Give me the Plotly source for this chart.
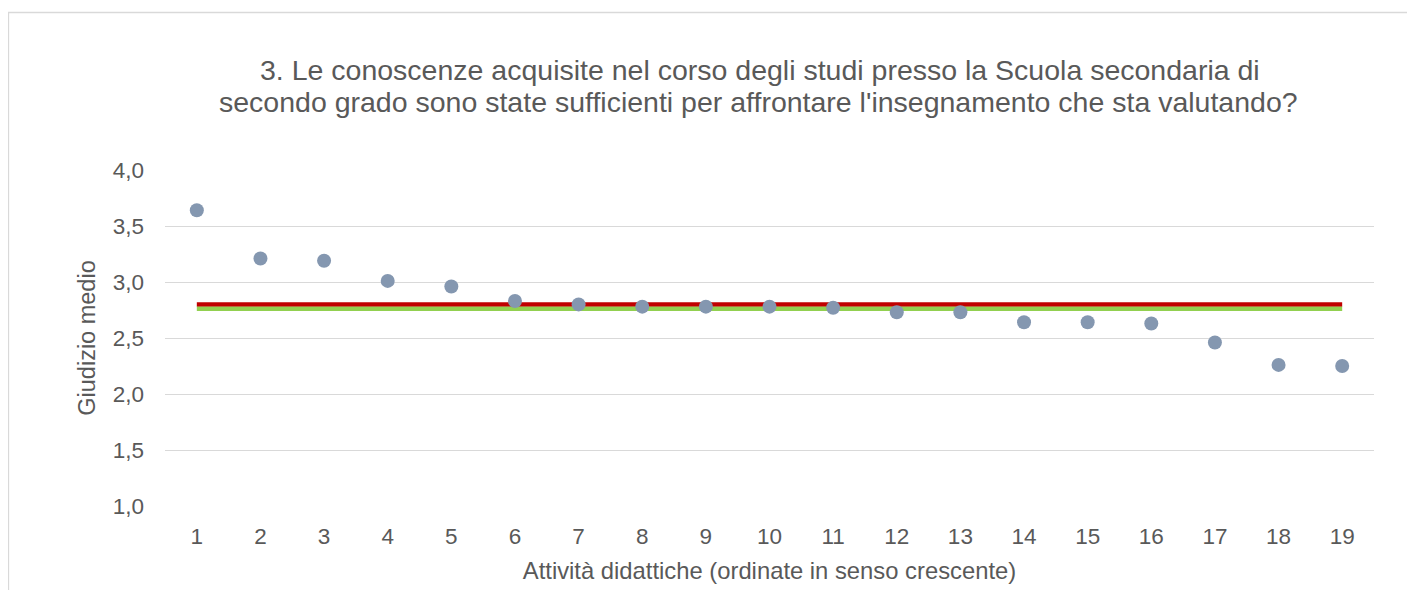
import plotly.graph_objects as go

attivita = list(range(1, 20))
giudizio = [3.64, 3.21, 3.19, 3.01, 2.96, 2.83, 2.80, 2.78, 2.78, 2.78,
            2.77, 2.73, 2.73, 2.64, 2.64, 2.63, 2.46, 2.26, 2.25]
media_rossa = 2.80
media_verde = 2.762
y_ticks = [1.0, 1.5, 2.0, 2.5, 3.0, 3.5, 4.0]
y_tick_labels = ["1,0", "1,5", "2,0", "2,5", "3,0", "3,5", "4,0"]
titolo = ["3. Le conoscenze acquisite nel corso degli studi presso la Scuola secondaria di",
          "secondo grado sono state sufficienti per affrontare l'insegnamento che sta valutando?"]

# page body has an 8px margin; figure coordinates = screen - 8
W, H = 1407, 582
L, R, T, B = 157, 41, 162, 84
pw, ph = W - L - R, H - T - B

def px_x(p):
    return (p - L) / pw

def px_y(p):
    return (H - B - p) / ph

fig = go.Figure()
fig.add_trace(go.Scatter(x=[attivita[0], attivita[-1]], y=[media_verde] * 2, mode="lines",
                         line=dict(color="#92d050", width=4.6), hoverinfo="skip", showlegend=False))
fig.add_trace(go.Scatter(x=[attivita[0], attivita[-1]], y=[media_rossa] * 2, mode="lines",
                         line=dict(color="#c00000", width=4.3), hoverinfo="skip", showlegend=False))
fig.add_trace(go.Scatter(x=attivita, y=giudizio, mode="markers",
                         marker=dict(color="#8497b0", size=14, line=dict(width=0)),
                         showlegend=False))

font_col = "#595959"
title_size = 28.5
fig.update_layout(
    width=W, height=H,
    margin=dict(l=L, r=R, t=T, b=B),
    paper_bgcolor="white", plot_bgcolor="white",
    font=dict(family="Liberation Sans, Arial, sans-serif", color=font_col),
    xaxis=dict(range=[0.5, 19.5], tickmode="array", tickvals=attivita,
               ticktext=[str(a) for a in attivita], showgrid=False, zeroline=False,
               showline=False, ticks="", tickfont=dict(size=22.5, color=font_col),
               ticklabelstandoff=14,
               title=dict(text="Attività didattiche (ordinate in senso crescente)",
                          font=dict(size=23.8, color=font_col), standoff=14)),
    yaxis=dict(range=[1.0, 4.0], tickmode="array", tickvals=y_ticks, ticktext=y_tick_labels,
               showgrid=True, gridcolor="#d9d9d9", gridwidth=1, zeroline=False,
               showline=False, ticks="", tickfont=dict(size=22.5, color=font_col),
               ticklabelstandoff=20,
               title=dict(text="Giudizio medio", font=dict(size=23.5, color=font_col), standoff=10)),
    annotations=[
        dict(text=titolo[0], xref="paper", yref="paper", x=px_x(752), y=px_y(62),
             xanchor="center", yanchor="middle", showarrow=False,
             font=dict(size=title_size, color=font_col)),
        dict(text=titolo[1], xref="paper", yref="paper", x=px_x(750), y=px_y(94),
             xanchor="center", yanchor="middle", showarrow=False,
             font=dict(size=title_size, color=font_col)),
    ],
    shapes=[dict(type="rect", xref="paper", yref="paper",
                 x0=px_x(0.5), x1=px_x(1430), y0=px_y(600), y1=px_y(4.5),
                 line=dict(color="#d9d9d9", width=1.3), fillcolor="rgba(0,0,0,0)", layer="below")],
)

fig.write_html("out.html")
